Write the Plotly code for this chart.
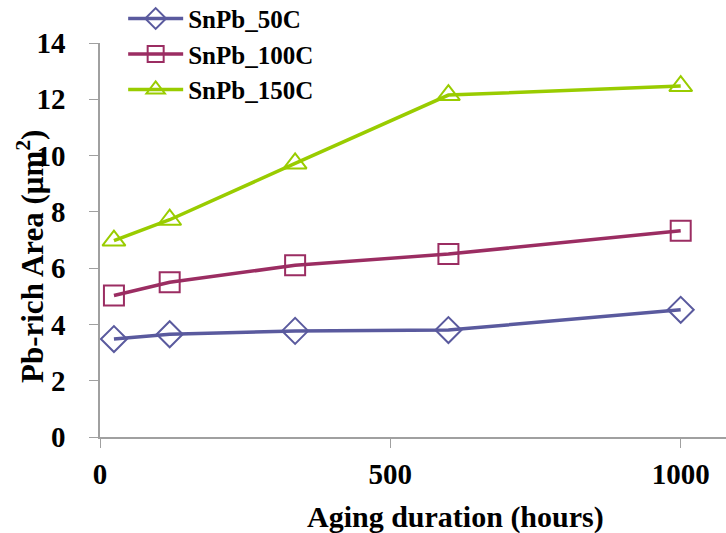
import plotly.graph_objects as go

hours = [24, 120, 336, 600, 1000]
snpb_50c = [3.48, 3.65, 3.77, 3.80, 4.52]
snpb_100c = [5.03, 5.50, 6.10, 6.50, 7.33]
snpb_150c = [6.98, 7.72, 9.72, 12.15, 12.47]

series = [
    ("SnPb_50C", snpb_50c, "#5A5A9E", "diamond-open"),
    ("SnPb_100C", snpb_100c, "#9B2D62", "square-open"),
    ("SnPb_150C", snpb_150c, "#99CC00", "triangle-up-open"),
]

fig = go.Figure()
for name, vals, color, sym in series:
    fig.add_trace(go.Scatter(
        x=hours, y=vals, name=name, mode="lines+markers",
        line=dict(color=color, width=3.5),
        marker=dict(symbol=sym, size=20, color=color, line=dict(width=2, color=color)),
    ))

font_family = "Liberation Serif, Times New Roman, serif"
fig.update_layout(
    width=726, height=533,
    margin=dict(l=100, r=0, t=43, b=96, autoexpand=False),
    plot_bgcolor="white", paper_bgcolor="white",
    font=dict(family=font_family, color="black"),
    showlegend=True,
    legend=dict(
        x=0.037, y=1.12, xanchor="left", yanchor="top",
        font=dict(family=font_family, size=25, color="black", weight="bold"),
        bgcolor="rgba(0,0,0,0)", tracegroupgap=0, itemwidth=55,
    ),
    xaxis=dict(
        range=[0, 1078], tickvals=[0, 500, 1000], ticktext=["0", "500", "1000"],
        showgrid=False, zeroline=False, showline=True, linecolor="#a0a0a0", linewidth=1.5,
        ticks="outside", ticklen=9, tickcolor="#a0a0a0", ticklabelstandoff=1,
        tickfont=dict(family=font_family, size=29, color="black", weight="bold"),
    ),
    yaxis=dict(
        range=[0, 14], tickvals=[0, 2, 4, 6, 8, 10, 12, 14],
        showgrid=False, zeroline=False, showline=True, linecolor="#a0a0a0", linewidth=1.5,
        ticks="outside", ticklen=9, tickcolor="#a0a0a0", ticklabelstandoff=18,
        tickfont=dict(family=font_family, size=29, color="black", weight="bold"),
    ),
    annotations=[
        dict(text="Aging duration (hours)", xref="paper", yref="paper",
             x=(455 - 100) / 626, y=-(517 - 437) / 394, xanchor="center", yanchor="middle",
             showarrow=False, font=dict(family=font_family, size=30, color="black", weight="bold")),
        dict(text="Pb-rich Area (μm<sup>2</sup>)", xref="paper", yref="paper",
             x=-(100 - 30) / 626, y=(437 - 257) / 394, xanchor="center", yanchor="middle",
             textangle=-90, showarrow=False,
             font=dict(family=font_family, size=31, color="black", weight="bold")),
    ],
)

fig.write_html("out.html", config={"displayModeBar": False},
               post_script="document.body.style.margin='0';document.body.style.overflow='hidden';")
